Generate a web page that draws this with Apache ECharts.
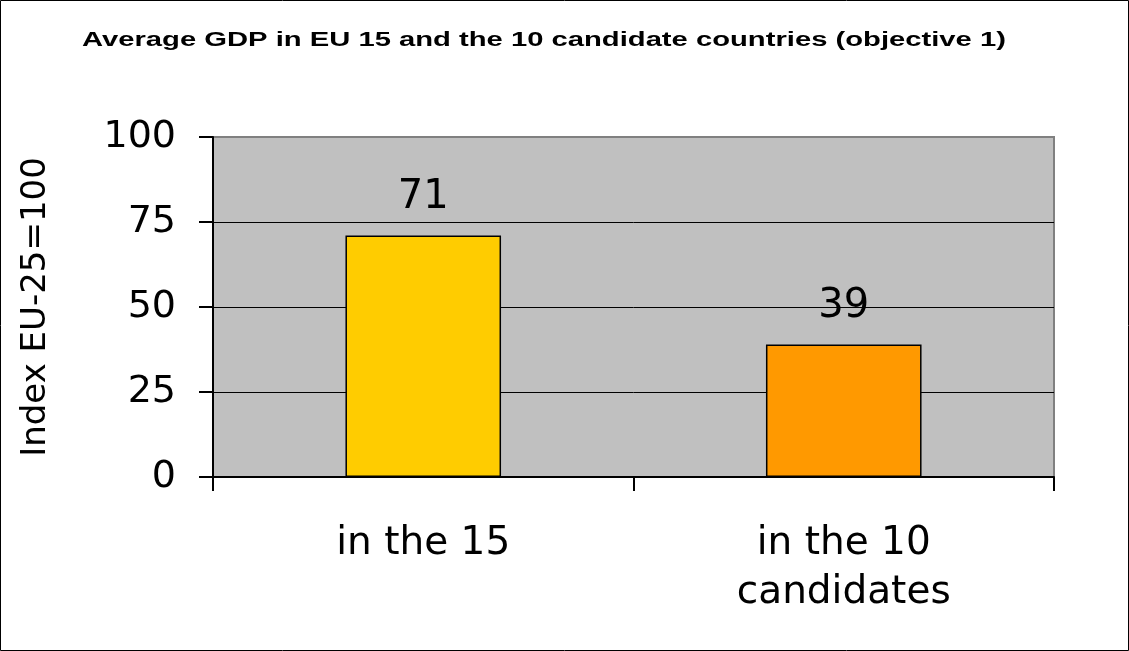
<!DOCTYPE html>
<html>
<head>
<meta charset="utf-8">
<script src="https://cdn.jsdelivr.net/npm/echarts@6/dist/echarts.min.js"></script>
<style>
  html, body { margin: 0; padding: 0; background: #fff; }
  #chart { width: 1129px; height: 651px; }
</style>
</head>
<body>
<div id="chart"></div>
<script>
  // chart data
  let chartTitle = 'Average GDP in EU 15 and the 10 candidate countries (objective 1)';
  let categories = ['in the 15', 'in the 10\ncandidates'];
  let gdpIndex = [71, 39];
  let barColors = ['#FFCC00', '#FF9900'];
  let yTicks = [0, 25, 50, 75, 100];

  let chart = echarts.init(document.getElementById('chart'));
  let textFont = 'DejaVu Sans';

  chart.setOption({
    animation: false,
    graphic: [{
      // title is drawn a bit stretched, like the original
      type: 'text',
      x: 82,
      y: 30,
      scaleX: 1.46,
      style: {
        text: chartTitle,
        fontFamily: 'Liberation Sans',
        fontWeight: 'bold',
        fontSize: 20,
        fill: '#000',
        verticalAlign: 'top'
      }
    }, {
      type: 'rect',
      shape: { x: 0.5, y: 0.5, width: 1128, height: 650 },
      style: { fill: 'none', stroke: '#000', lineWidth: 1 },
      z: 100
    }],
    grid: {
      left: 213,
      top: 137,
      right: 75,
      bottom: 174,
      outerBoundsMode: 'none',
      show: true,
      backgroundColor: '#C0C0C0',
      borderColor: '#808080',
      borderWidth: 2
    },
    xAxis: {
      type: 'category',
      data: categories,
      axisLine: { lineStyle: { color: '#000', width: 2 } },
      axisTick: { show: true, length: 14, lineStyle: { color: '#000', width: 2 } },
      axisLabel: {
        margin: 42,
        fontFamily: textFont,
        fontSize: 39,
        lineHeight: 49,
        color: '#000'
      }
    },
    yAxis: {
      type: 'value',
      min: yTicks[0],
      max: yTicks[yTicks.length - 1],
      interval: 25,
      name: 'Index EU-25=100',
      nameLocation: 'middle',
      nameGap: 160,
      nameTextStyle: {
        fontFamily: textFont,
        fontSize: 34,
        color: '#000'
      },
      axisLine: { show: true, lineStyle: { color: '#000', width: 2 } },
      axisTick: { show: true, length: 14, lineStyle: { color: '#000', width: 2 } },
      axisLabel: {
        margin: 37,
        fontFamily: textFont,
        fontSize: 38,
        color: '#000'
      },
      splitLine: {
        show: true,
        showMaxLine: false,
        lineStyle: { color: '#000', width: 1 }
      }
    },
    series: [{
      type: 'bar',
      barWidth: '37%',
      data: gdpIndex.map(function (v, i) {
        return {
          value: v,
          itemStyle: { color: barColors[i], borderColor: '#000', borderWidth: 1.5 }
        };
      }),
      label: {
        show: true,
        position: 'top',
        distance: 18,
        fontFamily: textFont,
        fontSize: 40,
        color: '#000'
      }
    }]
  });
</script>
</body>
</html>
